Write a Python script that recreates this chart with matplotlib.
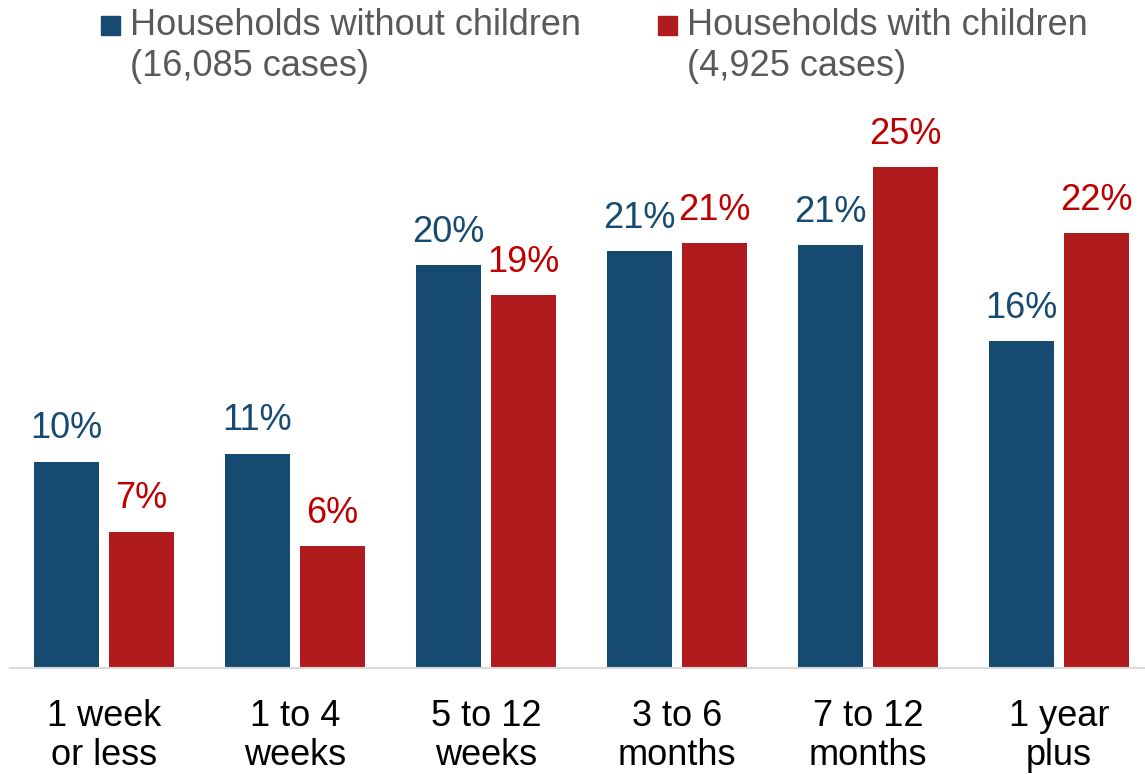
import numpy as np
import matplotlib.pyplot as plt
from matplotlib.patches import Rectangle

plt.rcParams['font.family'] = ['Liberation Sans', 'DejaVu Sans']

categories = ["1 week\nor less", "1 to 4\nweeks", "5 to 12\nweeks",
              "3 to 6\nmonths", "7 to 12\nmonths", "1 year\nplus"]
without_children = [10.3, 10.7, 20.1, 20.8, 21.1, 16.3]
with_children = [6.8, 6.1, 18.6, 21.2, 25.0, 21.7]
series_names = ["Households without children\n(16,085 cases)",
                "Households with children\n(4,925 cases)"]

blue = '#174a70'
red = '#b01c1e'
red_text = '#c00000'
grey_text = '#595959'

fig = plt.figure(figsize=(11.45, 7.74), dpi=100)
ax = fig.add_axes([10 / 1145, 106 / 774, 1135 / 1145, 561 / 774])

ind = np.arange(len(categories))
width = 0.34
off = 0.196
b1 = ax.bar(ind - off, without_children, width, color=blue)
b2 = ax.bar(ind + off, with_children, width, color=red)

for bars, vals, c in ((b1, without_children, blue), (b2, with_children, red_text)):
    for rect, v in zip(bars, vals):
        ax.annotate("{:.0f}%".format(v),
                    (rect.get_x() + rect.get_width() / 2, rect.get_height()),
                    xytext=(0, 11), textcoords='offset points',
                    ha='center', va='bottom', fontsize=26, color=c)

ax.set_xlim(-0.492, 5.45)
ax.set_ylim(0, 28)
ax.set_xticks(ind)
ax.set_xticklabels(categories, fontsize=26, linespacing=1.17)
ax.tick_params(axis='x', length=0, pad=22)
ax.set_yticks([])
for s in ('top', 'right', 'left'):
    ax.spines[s].set_visible(False)
ax.spines['bottom'].set_color('#d9d9d9')
ax.spines['bottom'].set_linewidth(1.5)

# legend drawn by hand so the square sits at the first line
legend_x = [101, 658]
for x, name, c in zip(legend_x, series_names, (blue, red)):
    fig.patches.append(Rectangle((x / 1145, 1 - 35 / 774), 19 / 1145, 19 / 774,
                                 transform=fig.transFigure, color=c))
    fig.text((x + 29) / 1145, 1 - 8 / 774, name, fontsize=26, color=grey_text,
             ha='left', va='top', linespacing=1.22)

plt.savefig("out.png", dpi=100)
